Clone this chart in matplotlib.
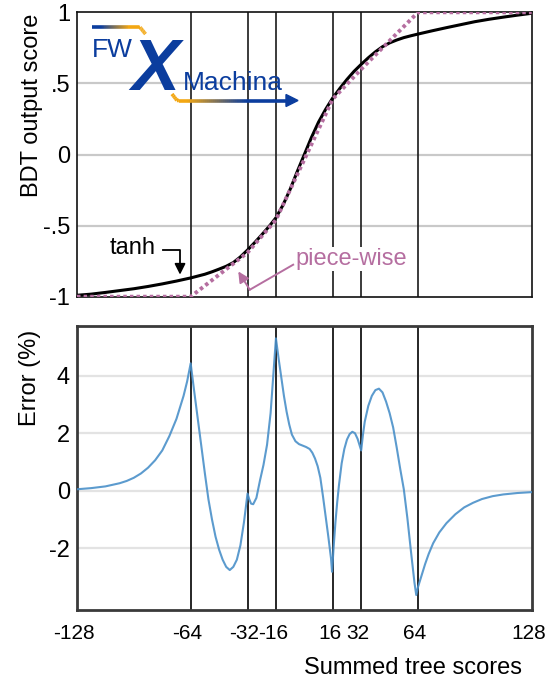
import numpy as np
import matplotlib
matplotlib.use("Agg")
import matplotlib.pyplot as plt
from matplotlib.collections import LineCollection
from matplotlib.colors import to_rgb
from matplotlib.transforms import ScaledTranslation

plt.rcParams['font.family'] = ['Liberation Sans', 'DejaVu Sans']
plt.rcParams['axes.unicode_minus'] = False

# ---- data ----
# activation output vs summed tree score
tanh_x = [-128, -120, -112, -104, -96, -88, -80, -72, -64, -56, -52, -48, -44, -40,
          -36, -32, -28, -24, -20, -16, -12, -8, -4, 0, 4, 8, 12, 16, 20, 24, 28,
          32, 36, 40, 44, 48, 52, 56, 60, 64, 72, 80, 88, 96, 104, 112, 120, 128]
tanh_y = [-0.99, -0.982, -0.97, -0.957, -0.944, -0.928, -0.91, -0.89, -0.868, -0.842,
          -0.825, -0.806, -0.786, -0.76, -0.72, -0.672, -0.62, -0.565, -0.508,
          -0.445, -0.355, -0.245, -0.12, 0.0, 0.12, 0.228, 0.318, 0.398, 0.465,
          0.528, 0.585, 0.634, 0.68, 0.722, 0.758, 0.785, 0.805, 0.822, 0.835,
          0.847, 0.87, 0.892, 0.913, 0.934, 0.951, 0.966, 0.98, 0.993]

# piece-wise linear approximation (breakpoints)
pw_x = [-128, -64, -32, -16, 16, 32, 64, 128]
pw_y = [-1.0, -1.0, -0.69, -0.46, 0.39, 0.60, 1.0, 1.0]

# approximation error in percent
err_x = [-128, -120, -112, -104, -100, -96, -92, -88, -84, -80, -76, -72, -68, -66, -64,
         -62, -60, -58, -56, -54, -52, -50, -48, -46, -44, -42, -40, -38, -36,
         -34, -33, -32, -31, -30, -28.8, -27, -25, -23, -21, -19, -17.5, -16,
         -14.5, -13, -11.5, -10, -8.5, -7, -5, -3, -1, 1, 3, 4.5, 6, 7.5, 9,
         10.5, 12, 13.5, 15, 15.6, 16.5, 17.5, 18.5, 19.5, 21, 22.5, 24, 25.5,
         27, 28.5, 30, 31, 32, 33, 34, 36, 38, 40, 42, 44, 46, 48, 50, 52, 54,
         56, 58, 60, 62, 63, 64, 66, 68, 70, 72.5, 76, 80, 85, 90, 95, 100, 106,
         112, 120, 128]
err_y = [0.05, 0.09, 0.15, 0.26, 0.34, 0.45, 0.6, 0.8, 1.06, 1.4, 1.9, 2.5, 3.3, 3.8, 4.43,
         3.45, 2.5, 1.55, 0.6, -0.3, -1.0, -1.6, -2.05, -2.4, -2.65, -2.76,
         -2.65, -2.4, -1.9, -1.1, -0.6, -0.1, -0.3, -0.45, -0.47, -0.25, 0.35,
         0.9, 1.6, 2.7, 4.0, 5.3, 4.6, 3.95, 3.3, 2.75, 2.3, 1.95, 1.72, 1.62,
         1.57, 1.52, 1.45, 1.32, 1.12, 0.85, 0.45, -0.2, -0.9, -1.6, -2.35,
         -2.82, -1.95, -1.1, -0.4, 0.2, 0.95, 1.45, 1.78, 1.97, 2.05, 2.0, 1.8,
         1.6, 1.4, 1.95, 2.4, 2.95, 3.3, 3.5, 3.55, 3.42, 3.1, 2.7, 2.2, 1.5,
         0.75, 0.05, -0.95, -2.1, -3.2, -3.63, -3.35, -2.95, -2.55, -2.2, -1.83,
         -1.45, -1.13, -0.82, -0.58, -0.42, -0.29, -0.19, -0.13, -0.08, -0.05]

x_ticks = [-128, -64, -32, -16, 16, 32, 64, 128]
breaks = [-64, -32, -16, 16, 32, 64]
top_yticks = [1, 0.5, 0, -0.5, -1]
top_ylabels = ['1', '.5', '0', '-.5', '-1']
bot_yticks = [4, 2, 0, -2]

W, H = 548, 687
FS = 17       # axis titles and annotations
TFS = 15      # x tick labels
fig = plt.figure(figsize=(W / 100, H / 100), dpi=100)


def fx(px):
    return px / W


def fy(py):
    return 1 - py / H


BLUE = '#0b3d9e'
ORANGE = '#f3a712'
MAUVE = '#b56ea0'

# ---- top panel ----
ax1 = fig.add_axes([fx(77), fy(296.7), fx(531.7) - fx(77), fy(12.3) - fy(296.7)])
ax1.set_xlim(-128, 128)
ax1.set_ylim(-1, 1)
for yv in [0.5, 0, -0.5]:
    ax1.axhline(yv, color='#c9c9c9', lw=1.6, zorder=1)
for xv in breaks:
    ax1.axvline(xv, color='#1a1a1a', lw=1.2, zorder=2)
ax1.plot(tanh_x, tanh_y, color='black', lw=2.2, zorder=4, solid_capstyle='round',
         solid_joinstyle='round')
ax1.plot(pw_x, pw_y, color=MAUVE, lw=2.8, ls=(0, (0.9, 0.8)), zorder=5,
         dash_capstyle='butt')
ax1.set_xticks([])
ax1.set_yticks(top_yticks)
ax1.set_yticklabels(top_ylabels)
ax1.tick_params(axis='y', length=0, pad=5, labelsize=FS)
for s in ax1.spines.values():
    s.set_color('#111111')
    s.set_linewidth(1.2)

# annotations
ax1.text(-96.5, -0.655, 'tanh', fontsize=FS, ha='center', va='center', zorder=6)
ax1.plot([-79.4, -70.0, -70.0], [-0.669, -0.669, -0.80], color='black', lw=1.3, zorder=6)
ax1.annotate('', xy=(-70.0, -0.845), xytext=(-70.0, -0.80),
             arrowprops=dict(arrowstyle='-|>', color='black', lw=1.3,
                             mutation_scale=16, shrinkA=0, shrinkB=0), zorder=6)

ax1.text(-5.0, -0.735, 'piece-wise', fontsize=FS, color=MAUVE, ha='left', va='center',
         zorder=6, bbox=dict(facecolor='white', edgecolor='none', pad=1))
ax1.plot([-6.3, -30.7], [-0.775, -0.951], color=MAUVE, lw=1.4, zorder=6)
ax1.annotate('', xy=(-37.2, -0.822), xytext=(-30.7, -0.951),
             arrowprops=dict(arrowstyle='-|>', color=MAUVE, lw=1.4,
                             mutation_scale=16, shrinkA=0, shrinkB=0), zorder=6)

# ---- bottom panel ----
ax2 = fig.add_axes([fx(77), fy(610), fx(531.7) - fx(77), fy(325.7) - fy(610)])
ax2.set_xlim(-128, 128)
ax2.set_ylim(-4.15, 5.74)
for yv in bot_yticks:
    ax2.axhline(yv, color='#e3e3e3', lw=1.6, zorder=1)
for xv in breaks:
    ax2.axvline(xv, color='#262626', lw=1.4, zorder=2)
ax2.plot(err_x, err_y, color='#4a90c9', lw=1.5, zorder=4, alpha=0.9,
         solid_joinstyle='round')
ax2.set_xticks(x_ticks)
ax2.set_xticklabels([str(v) for v in x_ticks])
ax2.set_yticks(bot_yticks)
ax2.tick_params(length=0)
ax2.tick_params(axis='x', pad=10, labelsize=TFS)
ax2.tick_params(axis='y', pad=5, labelsize=FS)
for s in ax2.spines.values():
    s.set_color('#3a3a3a')
    s.set_linewidth(2.0)
# x tick labels sit a little left of their grid lines
shift = ScaledTranslation(-3 / 100, 0, fig.dpi_scale_trans)
for lab in ax2.get_xticklabels():
    lab.set_transform(lab.get_transform() + shift)

# axis titles
fig.text(fx(32), fy(105), 'BDT output score', rotation=90, ha='center', va='center',
         fontsize=FS)
fig.text(fx(30), fy(378), 'Error (%)', rotation=90, ha='center', va='center',
         fontsize=FS)
fig.text(fx(522), fy(668), 'Summed tree scores', ha='right', va='center', fontsize=FS)


# ---- logo ----
def gradient_line(pts, c_start, c_end, lw, n=60):
    pts = np.asarray(pts, dtype=float)
    seg_len = np.hypot(*np.diff(pts, axis=0).T)
    t_nodes = np.concatenate([[0], np.cumsum(seg_len)]) / seg_len.sum()
    t = np.linspace(0, 1, n)
    xs = np.interp(t, t_nodes, pts[:, 0])
    ys = np.interp(t, t_nodes, pts[:, 1])
    c0, c1 = np.array(to_rgb(c_start)), np.array(to_rgb(c_end))
    segs = [[(fx(xs[i]), fy(ys[i])), (fx(xs[i + 1]), fy(ys[i + 1]))] for i in range(n - 1)]
    tm = (t[:-1] + t[1:]) / 2
    cols = [tuple(c0 + (c1 - c0) * min(1, max(0, (v - 0.15) / 0.5))) for v in tm]
    lc = LineCollection(segs, colors=cols, linewidths=lw, transform=fig.transFigure,
                        capstyle='butt', joinstyle='miter', zorder=10)
    fig.add_artist(lc)


gradient_line([(92, 27.3), (140, 27.3), (145.5, 34)], BLUE, ORANGE, 2.6)
gradient_line([(172, 94), (177, 100.5), (288, 100.5)], ORANGE, BLUE, 2.6)
fig.patches.append(plt.Polygon([(fx(286), fy(94.5)), (fx(298), fy(100.5)), (fx(286), fy(106.5))],
                               closed=True, color=BLUE, transform=fig.transFigure,
                               zorder=11))
fig.text(fx(92), fy(57), 'FW', fontsize=19, color=BLUE, ha='left', va='baseline', zorder=12)
fig.text(fx(131), fy(90), 'X', fontsize=52, color=BLUE, ha='left', va='baseline',
         fontweight='heavy', style='italic', zorder=12)
fig.text(fx(183), fy(90.5), 'Machina', fontsize=19, color=BLUE, ha='left', va='baseline',
         zorder=12)

fig.savefig('out.png', dpi=100)
